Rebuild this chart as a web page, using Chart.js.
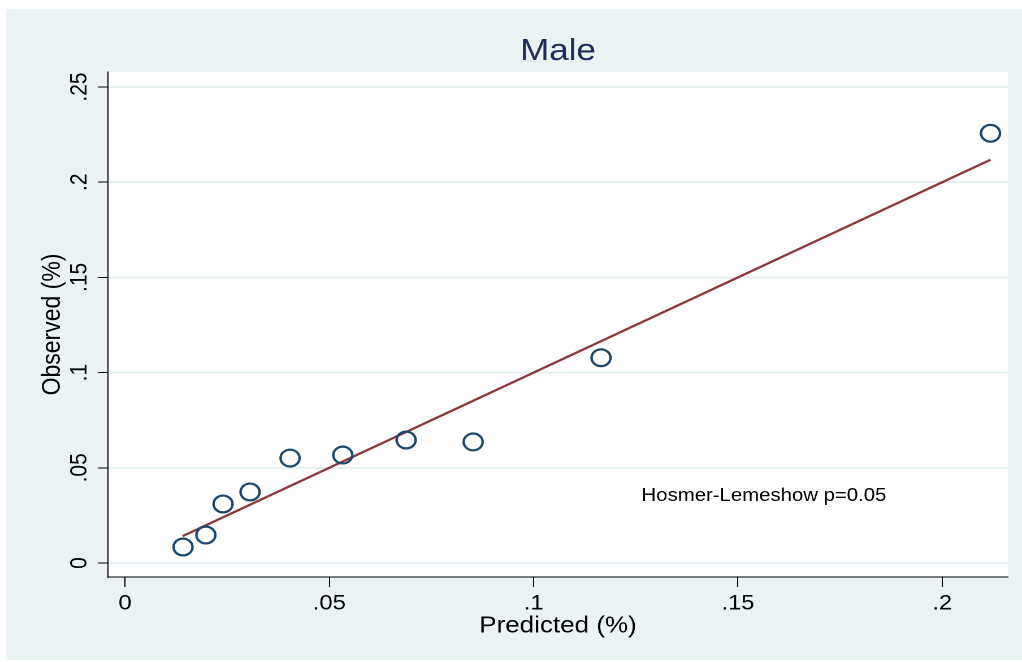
<!DOCTYPE html>
<html>
<head>
<meta charset="utf-8">
<title>Male calibration plot</title>
<script src="https://cdn.jsdelivr.net/npm/chart.js@4.4.1/dist/chart.umd.min.js"></script>
<style>
  html, body { margin: 0; padding: 0; background: #ffffff; overflow: hidden; }
  /* the graph is laid out 904px wide and stretched to fill the 1022px page */
  #wrap { width: 904px; height: 662px; transform: scaleX(1.13053); transform-origin: 0 0; }
</style>
</head>
<body>
<div id="wrap"><canvas id="c"></canvas></div>
<script>
// Deciles of predicted risk vs observed event rate
const predicted = [0.0142, 0.0198, 0.0240, 0.0306, 0.0404, 0.0533, 0.0688, 0.0852, 0.1165, 0.2118];
const observed  = [0.0084, 0.0147, 0.0310, 0.0373, 0.0551, 0.0567, 0.0646, 0.0636, 0.1078, 0.2257];

// reference line of perfect calibration, drawn across the predicted range
const refLineX = [0.0141, 0.2118];
const refLineY = [0.0141, 0.2118];

const xTicks = [0, 0.05, 0.1, 0.15, 0.2];
const xTickLabels = ['0', '.05', '.1', '.15', '.2'];
const yTicks = [0, 0.05, 0.1, 0.15, 0.2, 0.25];
const yTickLabels = ['0', '.05', '.1', '.15', '.2', '.25'];

const titleText = 'Male';
const xTitle = 'Predicted (%)';
const yTitle = 'Observed (%)';
const noteText = 'Hosmer-Lemeshow p=0.05';
const notePos = { x: 0.1264, y: 0.0326 };

const FONT = "'Liberation Sans', Arial, Helvetica, sans-serif";
const OUTER_BG = '#eaf2f3';
const GRID = '#e6eff1';

const toPoints = (xs, ys) => xs.map((x, i) => ({ x: x, y: ys[i] }));

const backgroundPlugin = {
  id: 'graphBackground',
  beforeDraw(chart) {
    const { ctx, chartArea: a } = chart;
    ctx.save();
    ctx.fillStyle = OUTER_BG;
    ctx.fillRect(5.3, 9, chart.width - 5.3, 651);
    ctx.fillStyle = '#ffffff';
    ctx.fillRect(a.left, a.top, a.right - a.left, a.bottom - a.top);
    ctx.restore();
  }
};

const notePlugin = {
  id: 'hlNote',
  afterDatasetsDraw(chart) {
    const { ctx, scales } = chart;
    ctx.save();
    ctx.font = '18px ' + FONT;
    ctx.fillStyle = '#000000';
    ctx.textAlign = 'left';
    ctx.textBaseline = 'alphabetic';
    ctx.fillText(noteText, scales.x.getPixelForValue(notePos.x), scales.y.getPixelForValue(notePos.y));
    ctx.restore();
  }
};

new Chart(document.getElementById('c'), {
  type: 'scatter',
  data: {
    datasets: [
      {
        type: 'line',
        data: toPoints(refLineX, refLineY),
        borderColor: '#90353b',
        borderWidth: 2.2,
        pointRadius: 0,
        fill: false,
        order: 2
      },
      {
        data: toPoints(predicted, observed),
        pointStyle: 'circle',
        pointRadius: 8.4,
        pointBorderWidth: 2.2,
        borderColor: '#1a476f',
        backgroundColor: 'rgba(0,0,0,0)',
        pointBackgroundColor: 'rgba(0,0,0,0)',
        order: 1
      }
    ]
  },
  options: {
    responsive: true,
    maintainAspectRatio: false,
    devicePixelRatio: 2,
    animation: false,
    layout: { padding: { top: 0, left: 0, right: 12.4, bottom: 0 } },
    plugins: {
      legend: { display: false },
      tooltip: { enabled: false },
      title: {
        display: true,
        text: titleText,
        fullSize: false,
        color: '#1e2d5c',
        font: { family: FONT, size: 31, weight: 'normal' },
        padding: { top: 33.0, bottom: 1.8 }
      }
    },
    scales: {
      x: {
        type: 'linear',
        min: -0.00416,
        max: 0.21608,
        afterBuildTicks: s => { s.ticks = xTicks.map(v => ({ value: v })); },
        afterFit: s => { s.height = 85; },
        ticks: {
          callback: (v, i) => xTickLabels[i],
          color: '#000000',
          font: { family: FONT, size: 21 },
          padding: 4,
          maxRotation: 0,
          minRotation: 0
        },
        grid: {
          drawOnChartArea: false,
          drawTicks: true,
          tickLength: 10,
          tickColor: '#000000',
          tickWidth: 1
        },
        border: { display: true, color: '#000000', width: 1 },
        title: {
          display: true,
          text: xTitle,
          color: '#000000',
          font: { family: FONT, size: 23 },
          padding: { top: 0, bottom: 22.2 }
        }
      },
      y: {
        type: 'linear',
        min: -0.00735,
        max: 0.25788,
        afterBuildTicks: s => { s.ticks = yTicks.map(v => ({ value: v })); },
        afterFit: s => { s.width = 95.5; },
        ticks: {
          callback: (v, i) => yTickLabels[i],
          color: '#000000',
          font: { family: FONT, size: 21 },
          padding: 1.3,
          minRotation: 90,
          maxRotation: 90,
          crossAlign: 'center'
        },
        grid: {
          color: GRID,
          lineWidth: 2,
          drawTicks: true,
          tickLength: 8.85,
          tickColor: '#000000',
          tickWidth: 1
        },
        border: { display: true, color: '#000000', width: 1 },
        title: {
          display: true,
          text: yTitle,
          color: '#000000',
          font: { family: FONT, size: 23 },
          padding: { top: 33.1, bottom: 0 }
        }
      }
    }
  },
  plugins: [backgroundPlugin, notePlugin]
});
</script>
</body>
</html>
